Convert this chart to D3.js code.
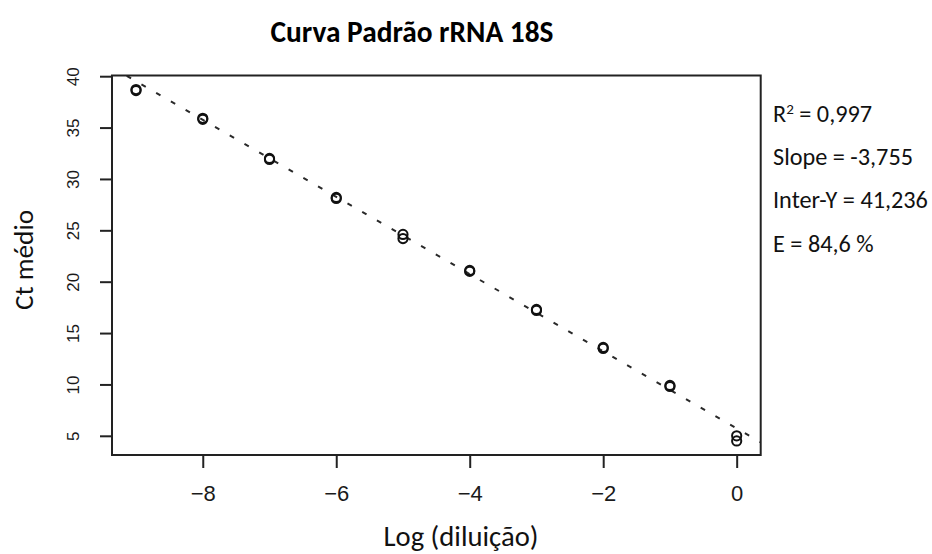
<!DOCTYPE html>
<html>
<head>
<meta charset="utf-8">
<script src="https://cdn.jsdelivr.net/npm/d3@7"></script>
<style>
  body { margin: 0; background: #fff; }
  svg { display: block; }
</style>
</head>
<body>
<svg id="chart" width="932" height="554"></svg>
<script>
// Standard curve for 18S rRNA: mean Ct against log dilution, two replicates per point
const chartTitle = "Curva Padrão rRNA 18S";
const xTitle = "Log (diluição)";
const yTitle = "Ct médio";

const logDilution  = [-9, -8, -7, -6, -5, -4, -3, -2, -1, 0];
const ctReplicateA = [38.6, 35.8, 31.9, 28.1, 24.2, 21.0, 17.2, 13.5, 9.8, 5.0];
const ctReplicateB = [38.7, 35.9, 32.0, 28.2, 24.6, 21.1, 17.3, 13.6, 9.9, 4.5];

const xTicks = [-8, -6, -4, -2, 0];
const yTicks = [5, 10, 15, 20, 25, 30, 35, 40];

// Regression summary
const rSquared = 0.997;
const fitSlope = -3.755;
const fitInterceptY = 41.236;
const efficiencyPct = 84.6;
const fitCtAtZero = 5.72; // fitted Ct where the line crosses log dilution 0

const svg = d3.select("#chart");
const plot = { left: 112, right: 760.7, top: 75.5, bottom: 455 };

const sansR = "'Liberation Sans', Arial, Helvetica, sans-serif";
const sansC = "Carlito, Calibri, Lato, 'Open Sans', sans-serif";

// R-style axis limits: data range padded by 4% on both ends
const pad = ([a, b]) => [a - 0.04 * (b - a), b + 0.04 * (b - a)];
const allCt = ctReplicateA.concat(ctReplicateB);

const x = d3.scaleLinear().domain(pad(d3.extent(logDilution))).range([plot.left, plot.right]);
const y = d3.scaleLinear().domain(pad(d3.extent(allCt))).range([plot.bottom, plot.top]);

const ptBR = d3.formatLocale({ decimal: ",", thousands: ".", grouping: [3], currency: ["R$", ""], minus: "-" });

function fitToWidth(sel, width) {
  const w = sel.node().getComputedTextLength();
  const fs = parseFloat(sel.style("font-size"));
  sel.style("font-size", (fs * width / w) + "px");
  return sel;
}

// Fitted line, clipped to the plot box
svg.append("clipPath").attr("id", "plotClip")
  .append("rect")
  .attr("x", plot.left).attr("y", plot.top)
  .attr("width", plot.right - plot.left).attr("height", plot.bottom - plot.top);

const [x0, x1] = x.domain();
const fitLine = d3.line().x(d => x(d)).y(d => y(fitCtAtZero + fitSlope * d));
svg.append("path")
  .attr("clip-path", "url(#plotClip)")
  .attr("d", fitLine([x0, x1]))
  .attr("fill", "none")
  .attr("stroke", "#2a2a2a")
  .attr("stroke-width", 2)
  .attr("stroke-dasharray", "5,12");

// Replicate points as open circles
const points = logDilution.flatMap((d, i) => [
  { x: d, ct: ctReplicateA[i] },
  { x: d, ct: ctReplicateB[i] }
]);
svg.append("g").selectAll("circle")
  .data(points)
  .join("circle")
  .attr("cx", d => x(d.x))
  .attr("cy", d => y(d.ct))
  .attr("r", 4.6)
  .attr("fill", "none")
  .attr("stroke", "#111")
  .attr("stroke-width", 2);

// Plot frame
svg.append("rect")
  .attr("x", plot.left).attr("y", plot.top)
  .attr("width", plot.right - plot.left).attr("height", plot.bottom - plot.top)
  .attr("fill", "none")
  .attr("stroke", "#222")
  .attr("stroke-width", 2);

// X axis
const xAxis = svg.append("g")
  .attr("transform", `translate(0,${plot.bottom})`)
  .call(d3.axisBottom(x).tickValues(xTicks).tickSize(13).tickSizeOuter(0).tickPadding(17)
    .tickFormat(d3.format("d")));
xAxis.select(".domain").remove();
xAxis.selectAll(".tick line").attr("stroke", "#222").attr("stroke-width", 2);
xAxis.selectAll(".tick text")
  .attr("fill", "#1a1a1a")
  .style("font-family", sansR)
  .style("font-size", "22px");

// Y axis with labels turned to run along the axis
const yAxis = svg.append("g")
  .attr("transform", `translate(${plot.left},0)`)
  .call(d3.axisLeft(y).tickValues(yTicks).tickSize(12).tickSizeOuter(0));
yAxis.select(".domain").remove();
yAxis.selectAll(".tick line").attr("stroke", "#222").attr("stroke-width", 2);
yAxis.selectAll(".tick text")
  .attr("transform", "rotate(-90)")
  .attr("x", 0).attr("y", -33).attr("dy", 0)
  .attr("text-anchor", "middle")
  .attr("fill", "#1a1a1a")
  .style("font-family", sansR)
  .style("font-size", "17px");

// Titles
const t = svg.append("text")
  .attr("x", 412).attr("y", 42)
  .attr("text-anchor", "middle")
  .style("font-family", sansC).style("font-weight", "900").style("font-size", "24px")
  .attr("fill", "#000")
  .text(chartTitle);
fitToWidth(t, 283);

const xt = svg.append("text")
  .attr("x", 461).attr("y", 546)
  .attr("text-anchor", "middle")
  .style("font-family", sansC).style("font-size", "24px")
  .attr("fill", "#111")
  .text(xTitle);
fitToWidth(xt, 155);

const yt = svg.append("text")
  .attr("transform", "translate(33,260) rotate(-90)")
  .attr("text-anchor", "middle")
  .style("font-family", sansC).style("font-size", "22px")
  .attr("fill", "#111")
  .text(yTitle);
fitToWidth(yt, 100);

// Regression summary beside the plot
const statLines = [
  { label: "R", sup: "2", value: ptBR.format(".3f")(rSquared) },
  { label: "Slope", value: ptBR.format(".3f")(fitSlope) },
  { label: "Inter-Y", value: ptBR.format(".3f")(fitInterceptY) },
  { label: "E", value: ptBR.format(".1f")(efficiencyPct) + " %" }
];
const stats = svg.append("g").style("font-family", sansC).attr("fill", "#111");
const statTexts = stats.selectAll("text")
  .data(statLines)
  .join("text")
  .attr("x", 773)
  .attr("y", (d, i) => 122 + i * 43.2)
  .style("font-size", "22px");
statTexts.each(function (d) {
  const s = d3.select(this);
  s.append("tspan").text(d.label);
  if (d.sup) {
    s.append("tspan").attr("dy", -8).style("font-size", "0.62em").text(d.sup);
    s.append("tspan").attr("dy", 8).text(" = " + d.value);
  } else {
    s.append("tspan").text(" = " + d.value);
  }
});
// size all summary lines from the widest one
const widest = statTexts.filter((d, i) => i === 2);
const base = widest.node().getComputedTextLength();
statTexts.style("font-size", (22 * 155 / base) + "px");
</script>
</body>
</html>
